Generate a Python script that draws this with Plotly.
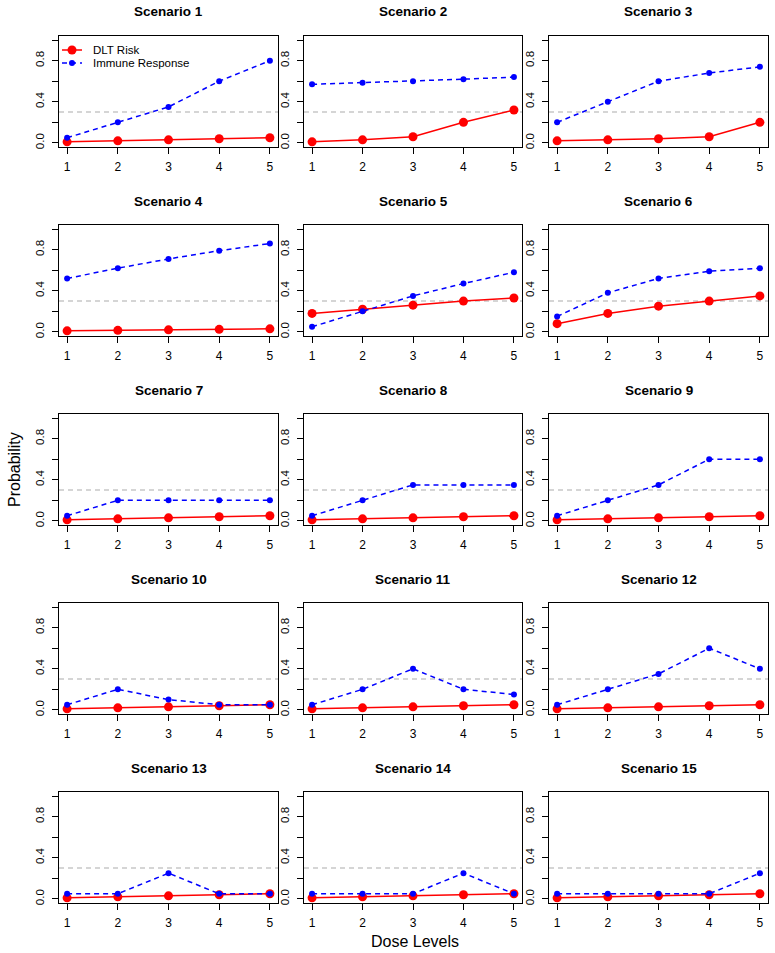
import plotly.graph_objects as go

W, H = 775, 953
FONT = "Liberation Sans, Arial, Helvetica, sans-serif"

doses = [1, 2, 3, 4, 5]
scenario_titles = [f"Scenario {i}" for i in range(1, 16)]
y_tick_vals = [0.0, 0.2, 0.4, 0.6, 0.8, 1.0]
y_tick_text = ["0.0", "", "0.4", "", "0.8", ""]
x_tick_text = ["1", "2", "3", "4", "5"]
target_level = 0.3

dlt_risk = [
    [0.01, 0.02, 0.03, 0.04, 0.05],
    [0.01, 0.03, 0.06, 0.20, 0.32],
    [0.02, 0.03, 0.04, 0.06, 0.20],
    [0.01, 0.015, 0.02, 0.025, 0.03],
    [0.18, 0.22, 0.26, 0.30, 0.33],
    [0.08, 0.18, 0.25, 0.30, 0.35],
    [0.01, 0.02, 0.03, 0.04, 0.05],
    [0.01, 0.02, 0.03, 0.04, 0.05],
    [0.01, 0.02, 0.03, 0.04, 0.05],
    [0.01, 0.02, 0.03, 0.04, 0.05],
    [0.01, 0.02, 0.03, 0.04, 0.05],
    [0.01, 0.02, 0.03, 0.04, 0.05],
    [0.01, 0.02, 0.03, 0.04, 0.05],
    [0.01, 0.02, 0.03, 0.04, 0.05],
    [0.01, 0.02, 0.03, 0.04, 0.05],
]
immune_response = [
    [0.05, 0.20, 0.35, 0.60, 0.80],
    [0.57, 0.585, 0.60, 0.62, 0.64],
    [0.20, 0.40, 0.60, 0.68, 0.74],
    [0.52, 0.62, 0.71, 0.79, 0.86],
    [0.05, 0.20, 0.35, 0.47, 0.58],
    [0.15, 0.38, 0.52, 0.59, 0.62],
    [0.05, 0.20, 0.20, 0.20, 0.20],
    [0.05, 0.20, 0.35, 0.35, 0.35],
    [0.05, 0.20, 0.35, 0.60, 0.60],
    [0.05, 0.20, 0.10, 0.05, 0.05],
    [0.05, 0.20, 0.40, 0.20, 0.15],
    [0.05, 0.20, 0.35, 0.60, 0.40],
    [0.05, 0.05, 0.25, 0.05, 0.05],
    [0.05, 0.05, 0.05, 0.25, 0.05],
    [0.05, 0.05, 0.05, 0.05, 0.25],
]

col_px = [(59, 278), (304, 522), (549, 768)]
row_px = [(36, 147), (225, 336), (414, 525), (603, 714), (792, 903)]


def px_x(p):
    return p / W


def px_y(p):
    return 1 - p / H


fig = go.Figure()
layout = dict(
    width=W, height=H,
    margin=dict(l=0, r=0, t=0, b=0),
    paper_bgcolor="white", plot_bgcolor="white",
    showlegend=False,
    font=dict(family=FONT, color="black"),
)
shapes = []
annotations = []

for i in range(15):
    r, c = divmod(i, 3)
    k = i + 1
    xa = "x" if k == 1 else f"x{k}"
    ya = "y" if k == 1 else f"y{k}"
    xl, xr = col_px[c]
    yt, yb = row_px[r]
    layout[f"xaxis{'' if k == 1 else k}"] = dict(
        domain=[px_x(xl), px_x(xr)], anchor=ya, range=[0.84, 5.16],
        tickvals=doses, ticktext=x_tick_text, ticks="outside", ticklen=6,
        tickwidth=1, tickcolor="black", showgrid=False, zeroline=False,
        showline=True, mirror=True, linecolor="black", linewidth=1,
        tickfont=dict(size=12, family=FONT), automargin=False,
        ticklabelstandoff=3,
    )
    layout[f"yaxis{'' if k == 1 else k}"] = dict(
        domain=[px_y(yb), px_y(yt)], anchor=xa, range=[-0.04, 1.04],
        tickvals=y_tick_vals, ticktext=y_tick_text, ticks="outside", ticklen=6,
        tickwidth=1, tickcolor="black", showgrid=False, zeroline=False,
        showline=True, mirror=True, linecolor="black", linewidth=1,
        tickangle=-90, tickfont=dict(size=11.5, family=FONT), automargin=False,
        ticklabelstandoff=3,
    )
    shapes.append(dict(
        type="line", xref=f"{xa} domain", yref=ya, x0=0, x1=1,
        y0=target_level, y1=target_level, layer="below",
        line=dict(color="#C8C8C8", width=1.5, dash="5px,4px"),
    ))
    fig.add_trace(go.Scatter(
        x=doses, y=dlt_risk[i], xaxis=xa, yaxis=ya, mode="lines+markers",
        name="DLT Risk", line=dict(color="red", width=1.5),
        marker=dict(color="red", size=9),
    ))
    fig.add_trace(go.Scatter(
        x=doses, y=immune_response[i], xaxis=xa, yaxis=ya, mode="lines+markers",
        name="Immune Response", line=dict(color="blue", width=1.5, dash="5px,4px"),
        marker=dict(color="blue", size=6),
    ))
    annotations.append(dict(
        text=f"<b>{scenario_titles[i]}</b>", xref="paper", yref="paper",
        x=px_x((xl + xr) / 2), y=px_y(yt - 24), xanchor="center", yanchor="middle",
        showarrow=False, font=dict(size=13.5, family=FONT, color="black"),
    ))

# manual legend in panel 1
legend_items = [("DLT Risk", "red", "solid", 9, 50), ("Immune Response", "blue", "5px,4px", 6, 63)]
for label, color, dash, msize, ypx in legend_items:
    shapes.append(dict(type="line", xref="paper", yref="paper",
                       x0=px_x(62), x1=px_x(82), y0=px_y(ypx), y1=px_y(ypx),
                       line=dict(color=color, width=1.5, dash=dash)))
    rr = msize / 2
    shapes.append(dict(type="circle", xref="paper", yref="paper",
                       x0=px_x(72 - rr), x1=px_x(72 + rr), y0=px_y(ypx + rr), y1=px_y(ypx - rr),
                       fillcolor=color, line=dict(color=color, width=0)))
    annotations.append(dict(text=label, xref="paper", yref="paper", x=px_x(91), y=px_y(ypx),
                            xanchor="left", yanchor="middle", showarrow=False,
                            font=dict(size=11.5, family=FONT, color="black")))

annotations.append(dict(text="Probability", xref="paper", yref="paper", x=px_x(14), y=px_y(470),
                        xanchor="center", yanchor="middle", textangle=-90, showarrow=False,
                        font=dict(size=16, family=FONT, color="black")))
annotations.append(dict(text="Dose Levels", xref="paper", yref="paper", x=px_x(415), y=px_y(941),
                        xanchor="center", yanchor="middle", showarrow=False,
                        font=dict(size=16, family=FONT, color="black")))

layout["shapes"] = shapes
layout["annotations"] = annotations
fig.update_layout(**layout)
fig.write_html(
    "out.html",
    config={"displayModeBar": False},
    post_script="document.body.style.margin='0';document.body.style.padding='0';"
                "document.body.style.overflow='hidden';",
)
